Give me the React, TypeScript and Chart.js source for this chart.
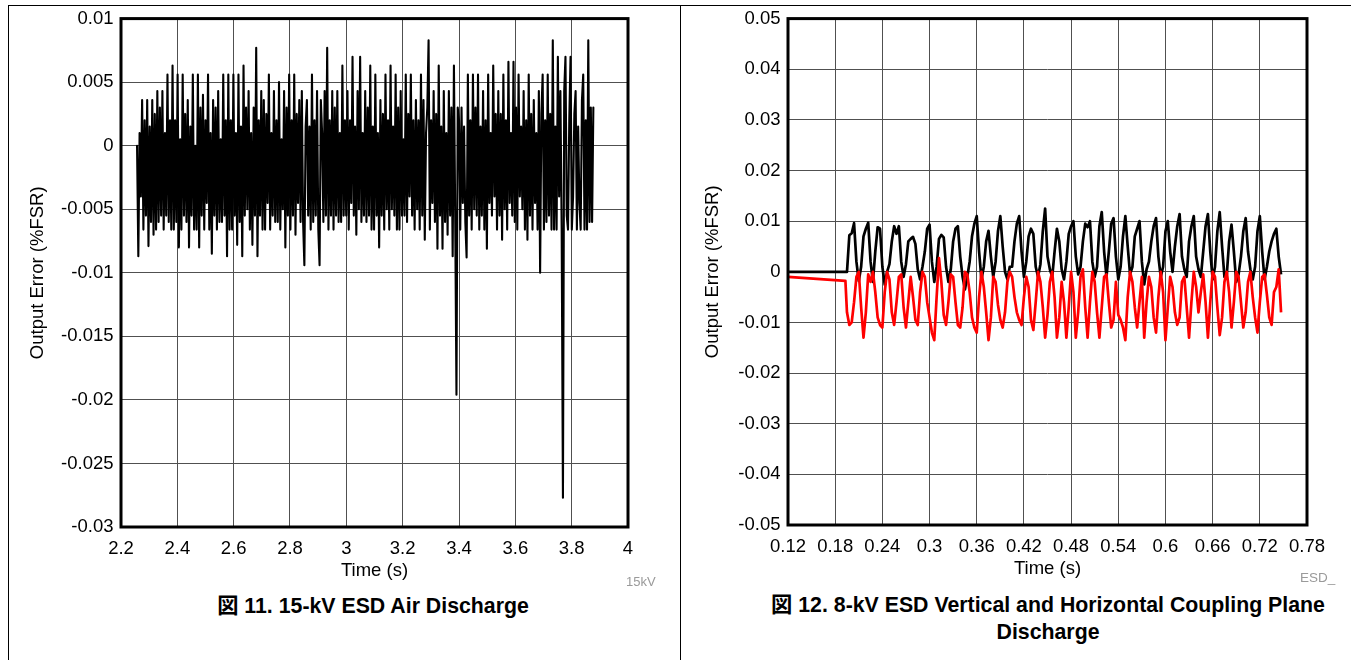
import React, { useEffect, useRef } from 'react';
import { Chart, registerables } from 'chart.js';

Chart.register(...registerables);

// ---------------- Figure 11: 15-kV ESD Air Discharge ----------------
// Output error samples in units of 0.001 %FSR, sampled every AIR_DT seconds from AIR_T0
const AIR_T0 = 2.257;
const AIR_DT = 0.0045;
const MILLI = 0.001;
const AIR_ERR_MILLI = [
  0, -8.7, 1.0, -4.0, 3.6, -6.6, 2.0, -5.5, 3.6, -7.9,
  1.5, -6.0, 3.6, -7.0, 2.5, -6.6, 4.3, -6.0, 3.0, -5.5,
  4.3, -6.6, 1.0, -5.5, 5.6, -6.0, 2.0, -6.6, 6.3, -6.6,
  2.0, -6.0, 5.6, -8.0, 0.5, -6.6, 5.6, -5.5, 2.5, -6.0,
  3.6, -8.0, 1.5, -5.5, 5.6, -6.6, 0.0, -6.6, 5.6, -8.0,
  3.0, -5.5, 4.0, -6.6, 2.0, -4.5, 5.6, -6.6, 1.0, -8.5,
  3.6, -5.5, 3.0, -6.6, 4.3, -6.0, 0.5, -6.0, 5.6, -5.5,
  2.0, -8.7, 5.6, -6.6, 2.0, -6.6, 5.6, -5.5, 1.0, -7.8,
  5.6, -6.0, 1.5, -8.7, 6.3, -5.5, 3.0, -5.0, 4.3, -6.6,
  1.0, -7.8, 3.0, -5.5, 7.7, -8.7, 2.0, -5.5, 4.3, -6.6,
  3.6, -6.6, 2.5, -4.5, 5.6, -6.6, 1.0, -5.5, 4.3, -6.0,
  2.0, -6.0, 5.0, -6.6, 0.5, -5.0, 4.3, -8.0, 3.0, -5.5,
  5.6, -6.6, 2.0, -5.5, 5.6, -7.0, 2.5, -4.5, 3.6, -6.0,
  4.3, -6.0, -9.4, 1.5, 3.6, -5.5, 1.5, -6.6, 5.6, -6.0,
  2.0, -5.5, 4.3, -6.6, -9.4, 3.6, 1.0, -6.0, 4.3, -5.5,
  7.7, -6.6, 2.0, -5.5, 4.3, -6.6, 3.0, -5.5, 4.3, -6.0,
  1.0, -6.0, 6.3, -5.5, 2.0, -5.5, 4.3, -6.6, 2.0, -4.5,
  7.0, -5.5, 1.5, -7.0, 4.3, -5.0, 7.0, -6.0, 1.0, -5.5,
  4.3, -6.0, 3.0, -5.5, 6.3, -6.6, 1.5, -6.6, 5.6, -5.5,
  1.0, -8.0, 3.6, -5.5, 2.5, -6.6, 5.6, -5.0, 2.0, -6.6,
  6.3, -5.0, 1.5, -5.5, 5.6, -6.6, 3.0, -6.6, 4.3, -5.5,
  0.5, -5.5, 5.6, -6.0, 2.5, -4.0, 5.6, -5.5, 2.0, -6.6,
  3.6, -5.0, 2.0, -6.6, 5.6, -5.5, 3.6, -7.4, 1.0, 3.0,
  8.3, -6.6, 2.0, -4.5, 4.3, -6.0, 2.5, -8.1, 6.3, -5.5,
  1.5, -8.1, 4.3, -6.0, 1.0, -7.0, 4.3, -5.5, 3.0, -8.7,
  6.3, -5.5, -19.6, 3.0, 2.0, -6.6, 3.0, -4.5, 1.5, -6.0,
  -8.8, 5.6, -5.5, 2.0, -6.6, 5.6, -5.0, 3.0, -5.5, 5.6,
  -6.6, 1.5, -5.5, 4.3, -6.6, 2.0, -8.1, 5.6, -4.5, 1.0,
  -5.5, 6.3, -4.0, 2.5, -6.6, 4.3, -5.5, 2.5, -7.4, 5.6,
  -5.0, 2.0, -6.6, 6.6, -4.5, 1.0, -5.5, 6.6, -6.0, 3.0,
  -6.6, 5.6, -4.0, 1.5, -5.0, 4.3, -6.6, 2.0, -7.4, 5.6,
  -5.5, 2.5, -6.6, 3.6, -4.5, 1.0, -6.6, 4.3, -10.0, 2.5,
  5.6, -6.6, 2.0, -6.0, 5.6, -5.5, 2.5, -6.6, 8.3, -6.6,
  1.5, -6.6, 7.0, -4.0, 4.3, -6.6, -27.7, 4.3, 7.0, -5.5,
  -6.6, 2.0, 7.0, -6.6, -4.0, 2.5, 4.3, -6.6, 1.5, -4.5,
  -6.6, 3.6, 5.6, -6.6, 2.0, -6.6, 8.3, -6.0, 3.0, -6.0,
  3.0,
];
const AIR_X_TICKS = [2.2, 2.4, 2.6, 2.8, 3, 3.2, 3.4, 3.6, 3.8, 4];
const AIR_Y_TICKS = [-0.03, -0.025, -0.02, -0.015, -0.01, -0.005, 0, 0.005, 0.01];

// ---------------- Figure 12: 8-kV ESD Coupling Plane Discharge ----------------
const CPL_LEAD_T = [0.12, 0.193];
const CPL_LEAD_BLACK = [0, 0];
const CPL_LEAD_RED = [-0.001, -0.0018];
const CPL_T0 = 0.195;
const CPL_DT = 0.003;
const CPL_BLACK = [
  0, 0.0072, 0.0076, 0.0096, 0.002, -0.0018, 0.001, 0.007, 0.0085, 0.0097,
  0.002, -0.002, 0.004, 0.0088, 0.0085, 0.001, -0.0025, 0, 0.0015, 0.006,
  0.009, 0.0075, 0.009, 0.002, -0.001, 0.0015, 0.006, 0.0065, 0.0069, 0.0055,
  0.0005, -0.0015, 0.001, 0.004, 0.0085, 0.0093, 0.002, -0.002, 0.001, 0.0065,
  0.0073, 0.0068, 0.001, -0.002, 0.0005, 0.006, 0.0085, 0.009, 0.003, -0.001,
  -0.0035, -0.001, 0.002, 0.007, 0.0095, 0.011, 0.004, -0.0015, 0.001, 0.006,
  0.0081, 0.003, -0.001, 0.002, 0.008, 0.011, 0.005, 0, -0.0015, 0.001,
  0.001, 0.006, 0.0095, 0.011, 0.004, -0.001, 0.002, 0.007, 0.0085, 0.0075,
  0.001, -0.001, 0.0015, 0.008, 0.0125, 0.003, 0.0005, -0.001, 0.004, 0.0085,
  0.006, 0.0005, -0.0015, 0.002, 0.0075, 0.009, 0.010, 0.003, -0.0005, 0.001,
  0.006, 0.0095, 0.0088, 0.010, 0.002, -0.001, 0.001, 0.009, 0.0118, 0.004,
  -0.001, 0.004, 0.0095, 0.0106, 0.003, -0.0015, 0.001, 0.007, 0.011, 0.005,
  -0.0005, 0.001, 0.007, 0.0085, 0.010, 0.002, -0.0025, 0.0005, 0.002, 0.006,
  0.009, 0.0106, 0.003, -0.001, 0.001, 0.008, 0.010, 0.004, 0, 0.005,
  0.009, 0.0114, 0.003, 0.0005, -0.001, 0.006, 0.009, 0.011, 0.003, 0.0005,
  -0.001, 0.004, 0.009, 0.0114, 0.004, -0.0015, 0.001, 0.008, 0.0118, 0.005,
  -0.001, -0.0005, 0.006, 0.0093, 0.004, -0.002, -0.0005, 0.003, 0.008, 0.0106,
  0.004, 0.0005, -0.0015, 0.001, 0.008, 0.011, 0.004, -0.0015, 0.001, 0.004,
  0.006, 0.0075, 0.0085, 0.003, -0.0005,
];
const CPL_RED = [
  -0.008, -0.0105, -0.010, -0.006, -0.001, 0, -0.007, -0.013, -0.008, -0.0005,
  -0.002, 0, -0.004, -0.009, -0.0105, -0.011, -0.004, 0, -0.0015, -0.008,
  -0.0105, -0.006, -0.001, -0.0005, -0.007, -0.011, -0.006, -0.001, -0.005, -0.0095,
  -0.0105, -0.004, 0, -0.001, -0.006, -0.009, -0.012, -0.0135, -0.005, 0.0027,
  -0.002, -0.0085, -0.0105, -0.006, -0.0005, -0.001, -0.006, -0.0105, -0.011, -0.007,
  0, -0.0005, -0.004, -0.009, -0.011, -0.012, -0.005, 0, -0.003, -0.008,
  -0.0135, -0.009, -0.001, -0.002, -0.0065, -0.0095, -0.011, -0.008, -0.002, 0,
  -0.001, -0.005, -0.008, -0.0095, -0.0105, -0.005, -0.001, -0.003, -0.0095, -0.0115,
  -0.006, 0, -0.002, -0.007, -0.013, -0.0085, -0.002, 0, -0.005, -0.013,
  -0.009, -0.002, -0.006, -0.013, -0.007, 0, -0.004, -0.013, -0.008, -0.001,
  0.0005, -0.007, -0.013, -0.006, 0, -0.002, -0.008, -0.013, -0.007, -0.001,
  -0.0005, -0.006, -0.011, -0.0095, -0.002, -0.0085, -0.0095, -0.011, -0.0135, -0.005,
  0, -0.002, -0.007, -0.011, -0.006, -0.001, -0.013, -0.006, -0.001, -0.003,
  -0.009, -0.012, -0.005, 0, -0.004, -0.0135, -0.007, -0.001, -0.003, -0.008,
  -0.0105, -0.009, -0.002, -0.001, -0.007, -0.013, -0.006, 0, -0.003, -0.008,
  -0.004, -0.0005, -0.006, -0.013, -0.006, 0, -0.001, -0.007, -0.0125, -0.009,
  -0.002, 0, -0.004, -0.011, -0.006, 0, -0.001, -0.006, -0.011, -0.008,
  -0.002, 0, -0.005, -0.009, -0.012, -0.006, -0.001, -0.0005, -0.0045, -0.009,
  -0.0105, -0.004, -0.003, 0.0005, -0.008,
];
const CPL_X_TICKS = [0.12, 0.18, 0.24, 0.3, 0.36, 0.42, 0.48, 0.54, 0.6, 0.66, 0.72, 0.78];
const CPL_Y_TICKS = [-0.05, -0.04, -0.03, -0.02, -0.01, 0, 0.01, 0.02, 0.03, 0.04, 0.05];

// ---------------- styling ----------------
const FONT = '"Liberation Sans", Arial, "Noto Sans CJK JP", sans-serif';
const TICK_SIZE = 18.5;
const TITLE_SIZE = 18.5;
const GRID = '#505050';

const fmt = (v: number) => String(Number(Number(v).toFixed(4)));

const framePlugin = {
  id: 'frame',
  afterDraw(chart: any) {
    const { ctx, chartArea } = chart;
    const { left, top, right, bottom } = chartArea;
    ctx.save();
    ctx.strokeStyle = '#000';
    ctx.lineWidth = 3;
    ctx.strokeRect(left, top, right - left, bottom - top);
    ctx.restore();
  },
};

type Cfg = {
  datasets: any[];
  xMin: number; xMax: number; xTicks: number[];
  yMin: number; yMax: number; yTicks: number[];
  yAxisWidth: number; xAxisHeight: number;
  padTop: number; padRight: number;
  yTitlePad: number; xTitlePad: number;
};

function buildConfig(c: Cfg): any {
  return {
    type: 'line',
    data: { datasets: c.datasets },
    options: {
      animation: false,
      responsive: false,
      devicePixelRatio: 1,
      layout: { padding: { top: c.padTop, right: c.padRight, left: 0, bottom: 0 } },
      plugins: { legend: { display: false }, tooltip: { enabled: false } },
      elements: { point: { radius: 0 }, line: { tension: 0 } },
      scales: {
        x: {
          type: 'linear',
          min: c.xMin,
          max: c.xMax,
          afterBuildTicks: (s: any) => { s.ticks = c.xTicks.map((v) => ({ value: v })); },
          afterFit: (s: any) => { s.height = c.xAxisHeight; },
          grid: { color: GRID, lineWidth: 1, drawTicks: false },
          border: { display: false },
          ticks: {
            color: '#000', padding: 11, maxRotation: 0, autoSkip: false,
            font: { family: FONT, size: TICK_SIZE },
            callback: (v: any) => fmt(v),
          },
          title: {
            display: true, text: 'Time (s)', color: '#000',
            font: { family: FONT, size: TITLE_SIZE },
            padding: { top: 0, bottom: c.xTitlePad },
          },
        },
        y: {
          type: 'linear',
          min: c.yMin,
          max: c.yMax,
          afterBuildTicks: (s: any) => { s.ticks = c.yTicks.map((v) => ({ value: v })); },
          afterFit: (s: any) => { s.width = c.yAxisWidth; },
          grid: { color: GRID, lineWidth: 1, drawTicks: false },
          border: { display: false },
          ticks: {
            color: '#000', padding: 7.5,
            font: { family: FONT, size: TICK_SIZE },
            callback: (v: any) => fmt(v),
          },
          title: {
            display: true, text: 'Output Error (%FSR)', color: '#000',
            font: { family: FONT, size: TITLE_SIZE },
            padding: { top: c.yTitlePad, bottom: 0 },
          },
        },
      },
    },
    plugins: [framePlugin],
  };
}

function ChartCanvas(props: { left: number; top: number; width: number; height: number; make: () => any }) {
  const ref = useRef<HTMLCanvasElement>(null);
  useEffect(() => {
    const chart = new Chart(ref.current as HTMLCanvasElement, props.make());
    return () => chart.destroy();
  }, []);
  return (
    <canvas
      ref={ref}
      width={props.width}
      height={props.height}
      style={{ position: 'absolute', left: props.left, top: props.top, width: props.width, height: props.height }}
    />
  );
}

function makeAir() {
  const pts = AIR_ERR_MILLI.map((v, i) => ({ x: AIR_T0 + i * AIR_DT, y: v * MILLI }));
  return buildConfig({
    datasets: [{
      label: '15-kV air discharge', data: pts, borderColor: '#000', borderWidth: 2.1,
      borderJoinStyle: 'round', borderCapStyle: 'round', fill: false,
    }],
    xMin: 2.2, xMax: 4, xTicks: AIR_X_TICKS,
    yMin: -0.03, yMax: 0.01, yTicks: AIR_Y_TICKS,
    yAxisWidth: 121, xAxisHeight: 63,
    padTop: 17, padRight: 52,
    yTitlePad: 26.6, xTitlePad: 7.9,
  });
}

function makeCoupling() {
  const black = [
    ...CPL_LEAD_T.map((t, i) => ({ x: t, y: CPL_LEAD_BLACK[i] })),
    ...CPL_BLACK.map((v, i) => ({ x: CPL_T0 + i * CPL_DT, y: v })),
  ];
  const red = [
    ...CPL_LEAD_T.map((t, i) => ({ x: t, y: CPL_LEAD_RED[i] })),
    ...CPL_RED.map((v, i) => ({ x: CPL_T0 + i * CPL_DT, y: v })),
  ];
  return buildConfig({
    datasets: [
      { label: 'Horizontal', data: red, borderColor: '#ff0000', borderWidth: 2.7, borderJoinStyle: 'round', fill: false },
      { label: 'Vertical', data: black, borderColor: '#000', borderWidth: 2.7, borderJoinStyle: 'round', fill: false },
    ],
    xMin: 0.12, xMax: 0.78, xTicks: CPL_X_TICKS,
    yMin: -0.05, yMax: 0.05, yTicks: CPL_Y_TICKS,
    yAxisWidth: 107, xAxisHeight: 65,
    padTop: 16, padRight: 44,
    yTitlePad: 21.3, xTitlePad: 9.9,
  });
}

const captionStyle: React.CSSProperties = {
  position: 'absolute', fontFamily: FONT, fontWeight: 'bold', fontSize: 21.3,
  color: '#000', textAlign: 'center', whiteSpace: 'nowrap',
};
const noteStyle: React.CSSProperties = {
  position: 'absolute', fontFamily: FONT, color: '#9a9a9a', whiteSpace: 'nowrap',
};

export default function App() {
  return (
    <div style={{ position: 'absolute', left: 0, top: 0, width: 1351, height: 660, background: '#fff', overflow: 'hidden' }}>
      <div style={{ position: 'absolute', left: 8, top: 5, width: 1343, height: 1, background: '#000' }} />
      <div style={{ position: 'absolute', left: 8, top: 5, width: 1, height: 655, background: '#000' }} />
      <div style={{ position: 'absolute', left: 680, top: 5, width: 1, height: 655, background: '#000' }} />

      <ChartCanvas left={0} top={0} width={680} height={590} make={makeAir} />
      <ChartCanvas left={681} top={0} width={670} height={590} make={makeCoupling} />

      <div style={{ ...noteStyle, left: 626, top: 574, fontSize: 13, lineHeight: '16px' }}>15kV</div>
      <div style={{ ...noteStyle, left: 1300, top: 570, fontSize: 13.5, lineHeight: '16px' }}>ESD_</div>

      <div style={{ ...captionStyle, left: 73, width: 600, top: 593, lineHeight: '26px' }}>
        図 11. 15-kV ESD Air Discharge
      </div>
      <div style={{ ...captionStyle, left: 718, width: 660, top: 592, lineHeight: '27px' }}>
        図 12. 8-kV ESD Vertical and Horizontal Coupling Plane<br />Discharge
      </div>
    </div>
  );
}
